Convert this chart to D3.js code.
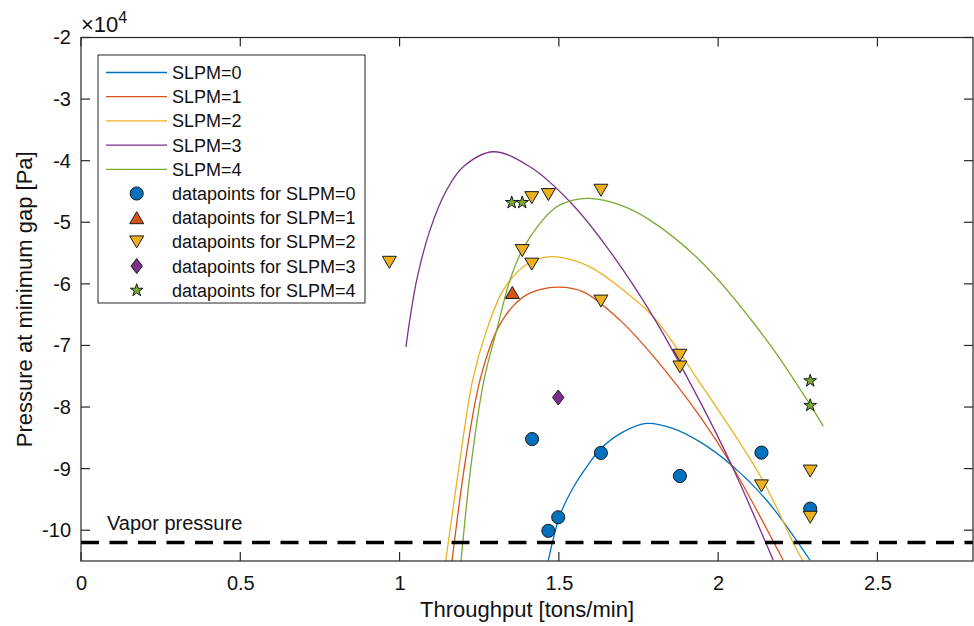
<!DOCTYPE html>
<html>
<head>
<meta charset="utf-8">
<script src="https://cdn.jsdelivr.net/npm/d3@7"></script>
<style>
  body { margin: 0; background: #fff; }
  text { font-family: "Liberation Sans", Arial, sans-serif; fill: #111; }
</style>
</head>
<body>
<script>
// Chart Params
var svgWidth = 974;
var svgHeight = 626;
var margin = { top: 37.5, right: 1, bottom: 65, left: 81 };
var width = svgWidth - margin.left - margin.right;
var height = svgHeight - margin.top - margin.bottom;

// tick labels
var xTicks = [0, 0.5, 1, 1.5, 2, 2.5];
var yTicks = [-2, -3, -4, -5, -6, -7, -8, -9, -10];
var vaporPressure = -10.2;

// legend labels and colours
var seriesNames = ["SLPM=0", "SLPM=1", "SLPM=2", "SLPM=3", "SLPM=4"];
var seriesColors = ["#0072BD", "#D95319", "#EDB120", "#7E2F8E", "#77AC30"];
var seriesMarkers = ["circle", "triUp", "triDown", "diamond", "star"];

// fitted curves, [throughput, pressure x1e4]
var curve0 = [[1.467,-10.49],[1.5035,-9.757],[1.5452,-9.307],[1.5873,-8.972],[1.6321,-8.673],
  [1.7021,-8.404],[1.7756,-8.267],[1.855,-8.343],[1.9429,-8.566],[2.0424,-8.945],
  [2.1522,-9.513],[2.2885,-10.488]];
var curve1 = [[1.1645,-10.504],[1.2068,-8.863],[1.2524,-7.563],[1.3057,-6.751],[1.3591,-6.345],
  [1.4093,-6.15],[1.494,-6.053],[1.5766,-6.129],[1.6918,-6.589],[1.7963,-7.174],
  [1.9435,-8.157],[2.0424,-8.945],[2.2043,-10.488]];
var curve2 = [[1.1447,-10.504],[1.1896,-8.863],[1.2294,-7.563],[1.2734,-6.751],[1.3255,-6.101],
  [1.3883,-5.723],[1.4407,-5.587],[1.4931,-5.561],[1.5976,-5.723],[1.7021,-6.101],
  [1.7963,-6.535],[1.9407,-7.591],[2.1365,-9.156],[2.2348,-10.195],[2.2662,-10.504]];
var curve3 = [[1.0201,-7.026],[1.0273,-6.751],[1.0537,-5.939],[1.0954,-5.127],[1.1478,-4.477],
  [1.2,-4.099],[1.2941,-3.855],[1.4093,-4.099],[1.5348,-4.667],[1.65,-5.398],
  [1.7963,-6.535],[1.9435,-7.916],[2.0424,-8.945],[2.1729,-10.488]];
var curve4 = [[1.1927,-10.504],[1.2263,-8.863],[1.2649,-7.563],[1.3048,-6.751],[1.3465,-5.939],
  [1.3851,-5.452],[1.4407,-5.018],[1.4931,-4.749],[1.5452,-4.64],[1.5976,-4.612],
  [1.6918,-4.718],[1.7859,-4.965],[1.9429,-5.622],[2.1522,-6.914],[2.2894,-7.97],[2.3299,-8.311]];

// measured datapoints
var points0 = [[1.416,-8.52],[1.467,-10.01],[1.498,-9.79],[1.632,-8.745],[1.88,-9.12],[2.136,-8.74],[2.289,-9.65]];
var points1 = [[1.354,-6.14]];
var points2 = [[0.968,-5.65],[1.385,-5.46],[1.415,-5.68],[1.415,-4.60],[1.467,-4.55],[1.632,-4.48],
  [1.632,-6.28],[1.88,-7.16],[1.88,-7.35],[2.136,-9.28],[2.289,-9.04],[2.289,-9.79]];
var points3 = [[1.498,-7.845]];
var points4 = [[1.352,-4.68],[1.385,-4.68],[2.289,-7.575],[2.289,-7.975]];

var curves = [curve0, curve1, curve2, curve3, curve4];
var pointSets = [points0, points1, points2, points3, points4];

var svg = d3.select("body").append("svg")
  .attr("width", svgWidth)
  .attr("height", svgHeight);

var x = d3.scaleLinear().domain([0, 2.8]).range([margin.left, margin.left + width]);
var y = d3.scaleLinear().domain([-10.5, -2]).range([margin.top + height, margin.top]);

svg.append("clipPath").attr("id", "clip")
  .append("rect")
  .attr("x", x(0)).attr("y", y(-2))
  .attr("width", x(2.8) - x(0)).attr("height", y(-10.5) - y(-2));

// marker shapes
function markerPath(kind) {
  if (kind == "circle") return d3.symbol(d3.symbolCircle, 135)();
  if (kind == "star") return d3.symbol(d3.symbolStar, 50)();
  if (kind == "triUp") return "M0,-6L7,6L-7,6Z";
  if (kind == "triDown") return "M0,6L7,-6L-7,-6Z";
  if (kind == "diamond") return "M0,-7.5L5.7,0L0,7.5L-5.7,0Z";
}

// axes
var axisColor = "#262626";
var tickLen = 9;
var plainFormat = d => String(d);   // matlab style hyphen minus

var xAxis = d3.axisBottom(x).tickValues(xTicks).tickSize(0).tickPadding(15).tickFormat(plainFormat);
var yAxis = d3.axisLeft(y).tickValues(yTicks).tickSize(0).tickPadding(10).tickFormat(plainFormat);

var gx = svg.append("g").attr("transform", `translate(0, ${y(-10.5)})`).call(xAxis);
var gy = svg.append("g").attr("transform", `translate(${x(0)}, 0)`).call(yAxis);
[gx, gy].forEach(g => {
  g.select(".domain").remove();
  g.selectAll("text").attr("font-size", 20).attr("fill", "#111")
    .attr("font-family", "'Liberation Sans', Arial, sans-serif");
});

var ticks = svg.append("g").attr("stroke", axisColor).attr("stroke-width", 1.2);
xTicks.forEach(t => {
  ticks.append("line").attr("x1", x(t)).attr("x2", x(t)).attr("y1", y(-10.5)).attr("y2", y(-10.5) - tickLen);
  ticks.append("line").attr("x1", x(t)).attr("x2", x(t)).attr("y1", y(-2)).attr("y2", y(-2) + tickLen);
});
yTicks.forEach(t => {
  ticks.append("line").attr("x1", x(0)).attr("x2", x(0) + tickLen).attr("y1", y(t)).attr("y2", y(t));
  ticks.append("line").attr("x1", x(2.8)).attr("x2", x(2.8) - tickLen).attr("y1", y(t)).attr("y2", y(t));
});

// curves
var line = d3.line()
  .x(d => x(d[0]))
  .y(d => y(d[1]))
  .curve(d3.curveCatmullRom.alpha(0.5));

var plot = svg.append("g").attr("clip-path", "url(#clip)");

curves.forEach((c, i) => {
  plot.append("path")
    .datum(c)
    .attr("d", line)
    .attr("fill", "none")
    .attr("stroke", seriesColors[i])
    .attr("stroke-width", 1.3);
});

// vapor pressure line
plot.append("line")
  .attr("x1", x(0)).attr("x2", x(2.8))
  .attr("y1", y(vaporPressure)).attr("y2", y(vaporPressure))
  .attr("stroke", "#000")
  .attr("stroke-width", 3.5)
  .attr("stroke-dasharray", "18,10.5");

svg.append("text")
  .attr("x", 107).attr("y", y(vaporPressure) - 13)
  .attr("font-size", 20)
  .text("Vapor pressure");

// datapoints
pointSets.forEach((pts, i) => {
  svg.append("g").selectAll("path")
    .data(pts)
    .enter()
    .append("path")
    .attr("transform", d => `translate(${x(d[0])}, ${y(d[1])})`)
    .attr("d", markerPath(seriesMarkers[i]))
    .attr("fill", seriesColors[i])
    .attr("stroke", "#1a1a1a")
    .attr("stroke-width", 1);
});

// box
svg.append("rect")
  .attr("x", x(0)).attr("y", y(-2))
  .attr("width", x(2.8) - x(0)).attr("height", y(-10.5) - y(-2))
  .attr("fill", "none")
  .attr("stroke", axisColor)
  .attr("stroke-width", 1.2);

// exponent label
var expo = svg.append("text").attr("x", 81).attr("y", 32).attr("font-size", 22);
expo.append("tspan").text("\u00d710");
expo.append("tspan").attr("font-size", 16).attr("dy", -9).text("4");

// axis labels
svg.append("text")
  .attr("x", (x(0) + x(2.8)) / 2)
  .attr("y", 617)
  .attr("text-anchor", "middle")
  .attr("font-size", 22)
  .text("Throughput [tons/min]");

svg.append("text")
  .attr("transform", `translate(32, ${(y(-2) + y(-10.5)) / 2}) rotate(-90)`)
  .attr("text-anchor", "middle")
  .attr("font-size", 22)
  .text("Pressure at minimum gap [Pa]");

// legend
var legend = svg.append("g");
legend.append("rect")
  .attr("x", 98).attr("y", 55)
  .attr("width", 267).attr("height", 248)
  .attr("fill", "#fff")
  .attr("stroke", axisColor)
  .attr("stroke-width", 1);

var rowY = i => 72.5 + i * 24.2;

seriesNames.forEach((name, i) => {
  legend.append("line")
    .attr("x1", 106).attr("x2", 167)
    .attr("y1", rowY(i)).attr("y2", rowY(i))
    .attr("stroke", seriesColors[i])
    .attr("stroke-width", 1.3);
  legend.append("text")
    .attr("x", 172).attr("y", rowY(i)).attr("dy", "0.36em")
    .attr("font-size", 18)
    .text(name);
});
seriesNames.forEach((name, i) => {
  var r = rowY(i + 5);
  legend.append("path")
    .attr("transform", `translate(136.7, ${r})`)
    .attr("d", markerPath(seriesMarkers[i]))
    .attr("fill", seriesColors[i])
    .attr("stroke", "#1a1a1a")
    .attr("stroke-width", 1);
  legend.append("text")
    .attr("x", 172).attr("y", r).attr("dy", "0.36em")
    .attr("font-size", 18)
    .text("datapoints for " + name);
});
</script>
</body>
</html>
